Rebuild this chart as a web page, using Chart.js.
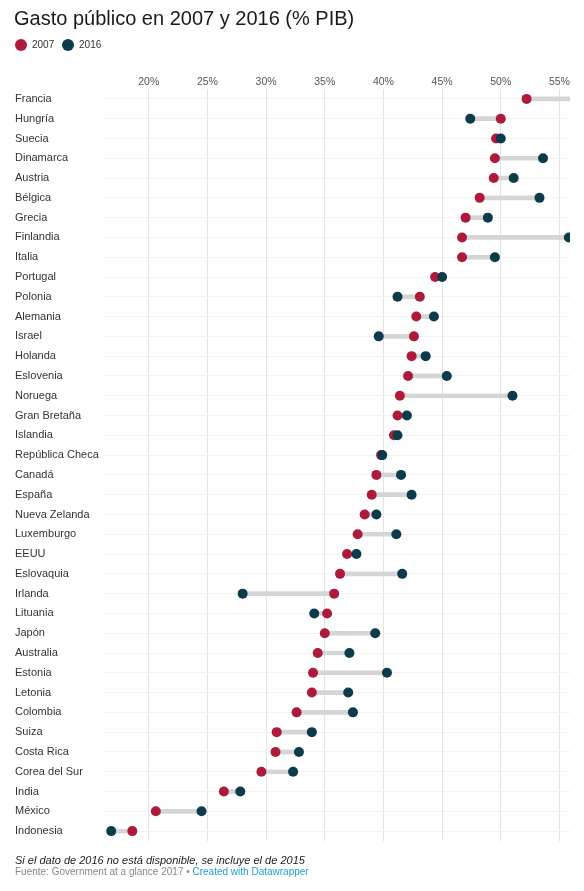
<!DOCTYPE html>
<html>
<head>
<meta charset="utf-8">
<script src="https://cdn.jsdelivr.net/npm/chart.js@4/dist/chart.umd.min.js"></script>
<style>
  html, body { margin: 0; padding: 0; background: #fff; }
  #wrap { position: relative; width: 584px; height: 891px; font-family: "Liberation Sans", Arial, sans-serif; }
  #c { position: absolute; left: 0; top: 0; }
  .title { position: absolute; left: 14px; top: 7px; font-size: 20px; color: #1a1a1a; white-space: nowrap; }
  .legend { position: absolute; left: 15px; top: 39px; font-size: 10px; color: #333; white-space: nowrap; }
  .legend span.dot { display: inline-block; width: 12px; height: 12px; border-radius: 50%; vertical-align: -3px; margin-right: 5px; }
  .legend span.item { margin-right: 5px; }
  .note { position: absolute; left: 15px; top: 854px; font-size: 11px; font-style: italic; color: #222; white-space: nowrap; }
  .src { position: absolute; left: 15px; top: 866px; font-size: 10px; color: #888; white-space: nowrap; }
  .src a { color: #1d9fd0; text-decoration: none; }
</style>
</head>
<body>
<div id="wrap">
  <canvas id="c" width="584" height="891"></canvas>
  <div class="title">Gasto público en 2007 y 2016 (% PIB)</div>
  <div class="legend">
    <span class="item"><span class="dot" style="background:#ad1a3c"></span>2007</span>
    <span class="item"><span class="dot" style="background:#0c3b4c"></span>2016</span>
  </div>
  <div class="note">Si el dato de 2016 no está disponible, se incluye el de 2015</div>
  <div class="src">Fuente: Government at a glance 2017 • <a>Created with Datawrapper</a></div>
</div>
<script>
const countries = ["Francia","Hungría","Suecia","Dinamarca","Austria","Bélgica","Grecia","Finlandia","Italia","Portugal",
  "Polonia","Alemania","Israel","Holanda","Eslovenia","Noruega","Gran Bretaña","Islandia","República Checa","Canadá",
  "España","Nueva Zelanda","Luxemburgo","EEUU","Eslovaquia","Irlanda","Lituania","Japón","Australia","Estonia",
  "Letonia","Colombia","Suiza","Costa Rica","Corea del Sur","India","México","Indonesia"];
const values2007 = [52.2,50.0,49.6,49.5,49.4,48.2,47.0,46.7,46.7,44.4,
  43.1,42.8,42.6,42.4,42.1,41.4,41.2,40.9,39.8,39.4,
  39.0,38.4,37.8,36.9,36.3,35.8,35.2,35.0,34.4,34.0,
  33.9,32.6,30.9,30.8,29.6,26.4,20.6,18.6];
const values2016 = [56.5,47.4,50.0,53.6,51.1,53.3,48.9,55.8,49.5,45.0,
  41.2,44.3,39.6,43.6,45.4,51.0,42.0,41.2,39.9,41.5,
  42.4,39.4,41.1,37.7,41.6,28.0,34.1,39.3,37.1,40.3,
  37.0,37.4,33.9,32.8,32.3,27.8,24.5,16.8];
const tickValues = [20,25,30,35,40,45,50,55];

const ranges = values2007.map((v, i) => [Math.min(v, values2016[i]), Math.max(v, values2016[i])]);

new Chart(document.getElementById('c'), {
  type: 'bar',
  data: {
    labels: countries,
    datasets: [
      { type: 'bar', label: 'range', data: ranges, backgroundColor: '#d5d5d5', barThickness: 4, indexAxis: 'y', order: 3,
        clip: {left: 0, right: 0, top: 10, bottom: 10} },
      { type: 'line', label: '2007', data: values2007, indexAxis: 'y', showLine: false, order: 2,
        pointRadius: 5, pointHoverRadius: 5, pointBackgroundColor: '#ad1a3c', pointBorderWidth: 0, borderColor: '#ad1a3c',
        clip: {left: 10, right: 0, top: 10, bottom: 10} },
      { type: 'line', label: '2016', data: values2016, indexAxis: 'y', showLine: false, order: 1,
        pointRadius: 5, pointHoverRadius: 5, pointBackgroundColor: '#0c3b4c', pointBorderWidth: 0, borderColor: '#0c3b4c',
        clip: {left: 10, right: 0, top: 10, bottom: 10} }
    ]
  },
  options: {
    indexAxis: 'y',
    responsive: false,
    animation: false,
    events: [],
    layout: { padding: { top: 70, left: 15, right: 14, bottom: 50 } },
    plugins: { legend: { display: false }, tooltip: { enabled: false } },
    scales: {
      x: {
        type: 'linear', position: 'top', min: 16.1, max: 55.9,
        afterBuildTicks: (s) => { s.ticks = tickValues.map(v => ({ value: v })); },
        afterFit: (s) => { s.height = 19; },
        grid: { color: '#e3e3e3', drawTicks: false, lineWidth: 1 },
        border: { display: false },
        ticks: { callback: (v) => v + '%', color: '#555', padding: 1, maxRotation: 0,
          font: { family: '"Liberation Sans", Arial, sans-serif', size: 10.5 } }
      },
      y: {
        type: 'category', offset: true,
        afterFit: (s) => { s.width = 88; },
        grid: { offset: false, color: '#f3f3f3', drawTicks: false },
        border: { display: false },
        ticks: { autoSkip: false, crossAlign: 'far', color: '#333', padding: 0,
          font: { family: '"Liberation Sans", Arial, sans-serif', size: 11 } }
      }
    }
  }
});
</script>
</body>
</html>
